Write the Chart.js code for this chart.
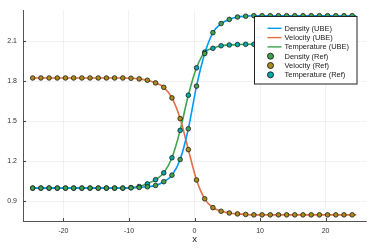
<!DOCTYPE html>
<html>
<head>
<meta charset="utf-8">
<script src="https://cdn.jsdelivr.net/npm/chart.js@4/dist/chart.umd.min.js"></script>
<style>
  body { margin: 0; background: #fff; }
  canvas { display: block; }
</style>
</head>
<body>
<canvas id="chart" width="374" height="249"></canvas>
<script>
// reference sample points (every other point of the UBE grid)
const xRef = [-24.69, -23.44, -22.19, -20.94, -19.69, -18.44, -17.19, -15.94, -14.69, -13.44,
              -12.19, -10.94, -9.69, -8.44, -7.19, -5.94, -4.69, -3.44, -2.19, -0.94,
              0.31, 1.56, 2.81, 4.06, 5.31, 6.56, 7.81, 9.06, 10.31, 11.56,
              12.81, 14.06, 15.31, 16.56, 17.81, 19.06, 20.31, 21.56, 22.81, 24.06];
const densityRef = [1.0, 1.0, 1.0, 1.0, 1.0, 1.0, 1.0, 1.0, 1.0, 1.0,
                    1.0, 1.0, 1.002, 1.005, 1.01, 1.02, 1.048, 1.097, 1.214, 1.444,
                    1.763, 2.007, 2.163, 2.231, 2.262, 2.28, 2.286, 2.29, 2.29, 2.29,
                    2.29, 2.29, 2.29, 2.29, 2.29, 2.29, 2.29, 2.29, 2.29, 2.29];
const velocityRef = [1.824, 1.824, 1.824, 1.824, 1.824, 1.824, 1.824, 1.824, 1.824, 1.824,
                     1.824, 1.824, 1.822, 1.817, 1.807, 1.787, 1.754, 1.675, 1.52, 1.288,
                     1.061, 0.92, 0.854, 0.827, 0.814, 0.807, 0.803, 0.8, 0.8, 0.8,
                     0.8, 0.8, 0.8, 0.8, 0.8, 0.8, 0.8, 0.8, 0.8, 0.8];
const temperatureRef = [1.0, 1.0, 1.0, 1.0, 1.0, 1.0, 1.0, 1.0, 1.0, 1.0,
                        1.0, 1.0, 1.004, 1.012, 1.032, 1.063, 1.114, 1.227, 1.432, 1.695,
                        1.9, 2.017, 2.046, 2.065, 2.071, 2.074, 2.076, 2.076, 2.076, 2.076,
                        2.076, 2.076, 2.076, 2.076, 2.076, 2.076, 2.076, 2.076, 2.076, 2.076];

// UBE solution runs one half-step further on the right
const xUbe = xRef.concat([24.69]);
const densityUbe = densityRef.concat([2.29]);
const velocityUbe = velocityRef.concat([0.8]);
const temperatureUbe = temperatureRef.concat([2.076]);

const xTicks = [-20, -10, 0, 10, 20];
const yTicks = [0.9, 1.2, 1.5, 1.8, 2.1];

const FONT = "'Liberation Sans', Arial, sans-serif";

function pts(xs, ys) {
    return xs.map((x, i) => ({ x: x, y: ys[i] }));
}

function lineSet(label, xs, ys, color) {
    return {
        label: label, data: pts(xs, ys), showLine: true,
        borderColor: color, backgroundColor: color, borderWidth: 1.6,
        pointRadius: 0, cubicInterpolationMode: 'monotone', order: 2
    };
}

function refSet(label, xs, ys, color) {
    return {
        label: label, data: pts(xs, ys), showLine: false,
        backgroundColor: color, borderColor: '#1a1a1a', borderWidth: 0.8,
        pointRadius: 2.3, order: 1
    };
}

// Plots.jl style legend box + inward tick marks
const plotsLegend = {
    id: 'plotsLegend',
    afterDraw(chart) {
        const ctx = chart.ctx;
        const area = chart.chartArea;
        const xs = chart.scales.x, ys = chart.scales.y;

        ctx.save();
        ctx.strokeStyle = '#444';
        ctx.lineWidth = 1;
        ctx.beginPath();
        xTicks.forEach(v => {
            const p = Math.round(xs.getPixelForValue(v)) + 0.5;
            ctx.moveTo(p, area.bottom); ctx.lineTo(p, area.bottom - 3);
        });
        yTicks.forEach(v => {
            const p = Math.round(ys.getPixelForValue(v)) + 0.5;
            ctx.moveTo(area.left, p); ctx.lineTo(area.left + 3, p);
        });
        ctx.stroke();

        const bw = 102.5, bh = 67.5;
        const bx = Math.round(area.right - 10 - bw) + 0.5;
        const by = Math.round(area.top + 5.5) + 0.5;
        ctx.fillStyle = '#fff';
        ctx.fillRect(bx, by, bw, bh);
        ctx.strokeStyle = '#222';
        ctx.strokeRect(bx, by, bw, bh);

        ctx.font = '7.5px ' + FONT;
        ctx.textBaseline = 'middle';
        ctx.textAlign = 'left';
        chart.data.datasets.forEach((ds, i) => {
            const y = by + 11.8 + i * 9.3;
            if (ds.showLine) {
                ctx.strokeStyle = ds.borderColor;
                ctx.lineWidth = 1.4;
                ctx.beginPath();
                ctx.moveTo(bx + 13, y); ctx.lineTo(bx + 27, y);
                ctx.stroke();
            } else {
                ctx.beginPath();
                ctx.arc(bx + 16, y, 3, 0, Math.PI * 2);
                ctx.fillStyle = ds.backgroundColor;
                ctx.fill();
                ctx.lineWidth = 0.9;
                ctx.strokeStyle = '#1a1a1a';
                ctx.stroke();
            }
            ctx.fillStyle = '#222';
            ctx.fillText(ds.label, bx + 30, y + 0.5);
        });
        ctx.restore();
    }
};

const ctx = document.getElementById('chart').getContext('2d');
new Chart(ctx, {
    type: 'scatter',
    data: {
        datasets: [
            lineSet('Density (UBE)', xUbe, densityUbe, '#009AFA'),
            lineSet('Velocity (UBE)', xUbe, velocityUbe, '#E36F47'),
            lineSet('Temperature (UBE)', xUbe, temperatureUbe, '#3EA44E'),
            refSet('Density (Ref)', xRef, densityRef, '#3EA44E'),
            refSet('Velocity (Ref)', xRef, velocityRef, '#AC8D18'),
            refSet('Temperature (Ref)', xRef, temperatureRef, '#00A9AD')
        ]
    },
    options: {
        responsive: false,
        animation: false,
        layout: { padding: { top: 7, right: 8, left: 0, bottom: 0 } },
        plugins: { legend: { display: false }, tooltip: { enabled: false } },
        scales: {
            x: {
                type: 'linear', min: -26.17, max: 26.17,
                afterBuildTicks: s => { s.ticks = xTicks.map(v => ({ value: v })); },
                afterFit: s => { s.height = 28; },
                border: { display: true, color: '#555', width: 1 },
                grid: { color: 'rgba(0,0,0,0.09)', lineWidth: 0.6, drawTicks: false },
                ticks: { padding: 6, color: '#333', font: { family: FONT, size: 7 },
                         maxRotation: 0, callback: v => String(v) },
                title: { display: true, text: 'x', color: '#222',
                         font: { family: FONT, size: 9.5 }, padding: { top: 0, bottom: 4 } }
            },
            y: {
                type: 'linear', min: 0.754, max: 2.331,
                afterBuildTicks: s => { s.ticks = yTicks.map(v => ({ value: v })); },
                afterFit: s => { s.width = 23; },
                border: { display: true, color: '#555', width: 1 },
                grid: { color: 'rgba(0,0,0,0.09)', lineWidth: 0.6, drawTicks: false },
                ticks: { padding: 6, color: '#333', font: { family: FONT, size: 7 },
                         callback: v => v.toFixed(1) }
            }
        }
    },
    plugins: [plotsLegend]
});
</script>
</body>
</html>
